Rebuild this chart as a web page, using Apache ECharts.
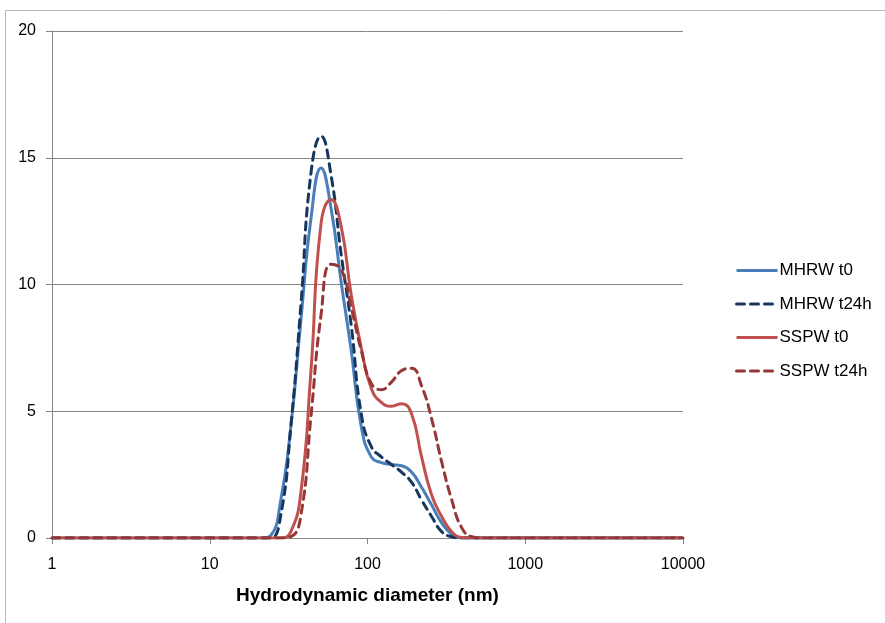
<!DOCTYPE html>
<html>
<head>
<meta charset="utf-8">
<script src="https://cdn.jsdelivr.net/npm/echarts@6/dist/echarts.min.js"></script>
<style>
    html, body { margin: 0; padding: 0; background: #fff; }
    #chart { width: 885px; height: 623px; }
</style>
</head>
<body>
<div id="chart"></div>
<script>
"use strict";

// size bins (nm), shared by all series
const sizes = [1, 18.17, 21.04, 24.36, 28.21, 32.67, 37.84, 43.82, 50.75, 58.77, 68.06, 78.82, 91.28,
    105.7, 122.4, 141.8, 164.2, 190.1, 220.2, 255.0, 295.3, 342.0, 396.1, 458.7, 531.2, 615.1, 10000];

const mhrwT0 = [0, 0, 0, 0.1, 1.5, 4.4, 8.6, 12.6, 14.6, 13.0, 10.1, 7.4, 4.4,
    3.2, 2.97, 2.9, 2.85, 2.6, 2.0, 1.3, 0.6, 0.15, 0, 0, 0, 0, 0];
const mhrwT24 = [0, 0, 0, 0, 0.9, 4.4, 9.2, 14.4, 15.85, 14.3, 11.2, 8.4, 4.9,
    3.6, 3.2, 2.9, 2.6, 2.2, 1.5, 0.85, 0.25, 0.05, 0, 0, 0, 0, 0];
const sspwT0 = [0, 0, 0, 0, 0, 0.25, 1.8, 6.6, 12.4, 13.35, 12.3, 9.6, 7.5,
    5.9, 5.35, 5.2, 5.3, 4.9, 3.2, 1.7, 0.85, 0.25, 0.02, 0, 0, 0, 0];
const sspwT24 = [0, 0, 0, 0, 0, 0.05, 0.9, 4.8, 8.8, 10.8, 10.6, 9.1, 7.4,
    6.1, 5.85, 6.15, 6.6, 6.7, 6.0, 4.7, 3.0, 1.5, 0.4, 0.05, 0, 0, 0];

const seriesNames = ['MHRW t0', 'MHRW t24h', 'SSPW t0', 'SSPW t24h'];
const yTicks = [0, 5, 10, 15, 20];

(function () {
    let chart = echarts.init(document.getElementById('chart'), null, { renderer: 'canvas' });
    let font = 'Liberation Sans';
    let axisGray = '#868686';

    function makeSeries(name, values, color, dashed) {
        return {
            name: name,
            type: 'line',
            smooth: 0.5,
            symbol: 'none',
            lineStyle: {
                color: color,
                width: 3,
                type: dashed ? [8, 6] : 'solid',
                cap: dashed ? 'round' : 'butt'
            },
            itemStyle: { color: color },
            data: sizes.map((s, i) => [s, values[i]])
        };
    }

    chart.setOption({
        animation: false,
        backgroundColor: '#fff',
        graphic: [{
            type: 'rect',
            shape: { x: 5.5, y: 10.5, width: 920, height: 700 },
            style: { fill: 'none', stroke: '#b8b8b8', lineWidth: 1 },
            silent: true
        }],
        grid: { left: 52, right: 202, top: 31, bottom: 85 },
        legend: {
            orient: 'vertical',
            left: 730,
            top: 257,
            itemWidth: 41,
            itemHeight: 14,
            itemGap: 16.5,
            itemStyle: { opacity: 0 },
            lineStyle: { width: 3 },
            textStyle: { fontFamily: font, fontSize: 17, color: '#000', padding: [0, 0, 0, -3] },
            data: seriesNames
        },
        xAxis: {
            type: 'log',
            logBase: 10,
            min: 1,
            max: 10000,
            name: 'Hydrodynamic diameter (nm)',
            nameLocation: 'middle',
            nameGap: 48,
            nameTextStyle: { fontFamily: font, fontSize: 19, fontWeight: 'bold', color: '#000' },
            axisLine: { lineStyle: { color: axisGray, width: 1 } },
            axisTick: { show: true, length: 6, lineStyle: { color: axisGray } },
            minorTick: { show: false },
            splitLine: { show: false },
            axisLabel: {
                fontFamily: font, fontSize: 16, color: '#000', margin: 19,
                formatter: v => String(Math.round(v))
            }
        },
        yAxis: {
            type: 'value',
            min: yTicks[0],
            max: yTicks[yTicks.length - 1],
            interval: 5,
            axisLine: { show: true, lineStyle: { color: axisGray, width: 1 } },
            axisTick: { show: true, length: 6, lineStyle: { color: axisGray } },
            splitLine: { show: true, lineStyle: { color: axisGray, width: 1 } },
            axisLabel: { fontFamily: font, fontSize: 16, color: '#000', margin: 16 }
        },
        series: [
            makeSeries(seriesNames[0], mhrwT0, '#4a7ebb', false),
            makeSeries(seriesNames[1], mhrwT24, '#17375e', true),
            makeSeries(seriesNames[2], sspwT0, '#c0504d', false),
            makeSeries(seriesNames[3], sspwT24, '#953735', true)
        ]
    });

    window.chart = chart;
})();
</script>
</body>
</html>
